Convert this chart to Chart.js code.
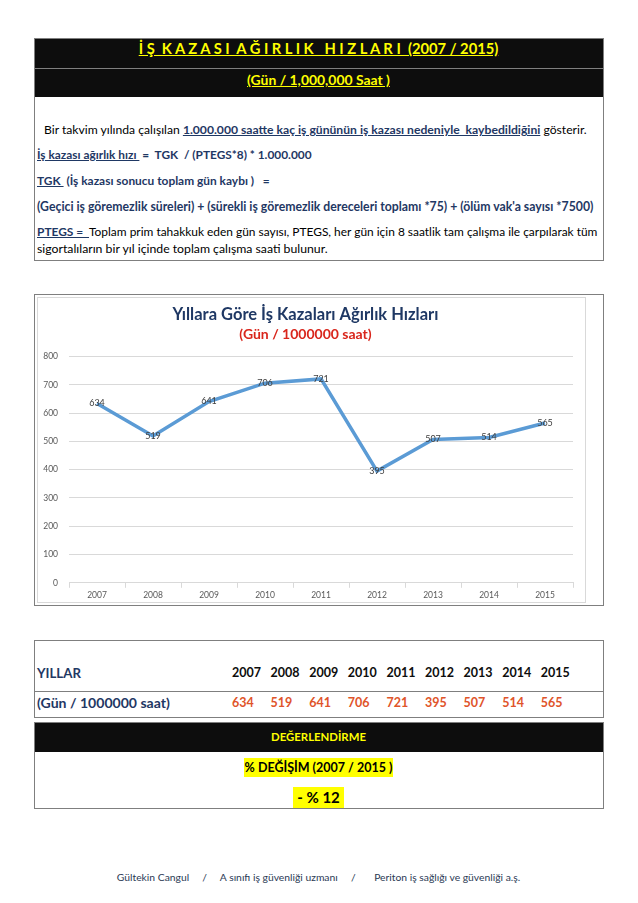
<!DOCTYPE html>
<html><head><meta charset="utf-8">
<script src="https://cdn.jsdelivr.net/npm/chart.js@4.4.1/dist/chart.umd.min.js"></script>
<style>
body{margin:0;width:638px;height:903px;background:#fff;font-family:Lato,"Noto Sans",sans-serif;position:relative;overflow:hidden}
.a{position:absolute;white-space:pre;line-height:16px}
.box{position:absolute;box-sizing:border-box;border:1px solid #7f7f7f}
.blk{position:absolute;background:#0d0d0d}
.nv{color:#1f3864;font-weight:bold}
.u{text-decoration:underline}
.hl{background:#ffff00}
</style></head><body>

<div class="box" style="left:34px;top:38px;width:570px;height:223px"></div>
<div class="blk" style="left:35px;top:39px;width:568px;height:29px"></div>
<div class="blk" style="left:35px;top:69px;width:568px;height:28px"></div>
<div class="a" style="left:35px;top:68px;width:568px;height:1px;background:#7f7f7f"></div>

<div class="a fit c" data-w="360" data-f="12" style="top:40px;color:#ffff00;font-weight:bold;text-decoration:underline">İ Ş  K A Z A S I  A Ğ I R L I K   H I Z L A R I  (2007 / 2015)</div>
<div class="a fit c" data-w="143" data-f="12" style="top:72px;color:#ffff00;font-weight:bold;text-decoration:underline">(Gün / 1,000,000 Saat )</div>

<div class="a fit" data-w="543" data-f="11" style="left:44px;top:122px">Bir takvim yılında çalışılan <span class="nv u">1.000.000 saatte kaç iş gününün iş kazası nedeniyle  kaybedildiğini</span> gösterir.</div>
<div class="a fit nv" data-w="275" data-f="11" style="left:37px;top:147px"><span class="u">İş kazası ağırlık hızı </span> =  TGK  / (PTEGS*8) * 1.000.000</div>
<div class="a fit nv" data-w="233" data-f="11" style="left:37px;top:173px"><span class="u">TGK </span> (İş kazası sonucu toplam gün kaybı )   =</div>
<div class="a fit nv" data-w="557" data-f="11" style="left:37px;top:199px">(Geçici iş göremezlik süreleri) + (sürekli iş göremezlik dereceleri toplamı *75) + (ölüm vak'a sayısı *7500)</div>
<div class="a fit" data-w="561" data-f="11" style="left:37px;top:224px"><span class="nv u">PTEGS =  </span>Toplam prim tahakkuk eden gün sayısı, PTEGS, her gün için 8 saatlik tam çalışma ile çarpılarak tüm</div>
<div class="a fit" data-w="291" data-f="11" style="left:37px;top:241px">sigortalıların bir yıl içinde toplam çalışma saati bulunur.</div>

<div class="box" style="left:34px;top:294px;width:570px;height:312px"></div>
<div class="box" style="left:37px;top:297px;width:549px;height:306px;border-color:#d9d9d9"></div>
<div style="position:absolute;left:38px;top:298px;width:547px;height:304px"><canvas id="c"></canvas></div>

<div class="box" style="left:34px;top:640px;width:570px;height:78px"></div>
<div class="a" style="left:35px;top:691px;width:568px;height:1px;background:#7f7f7f"></div>
<div class="a fit nv" data-w="44" data-f="12.5" style="left:37px;top:665px">YILLAR</div>
<div class="a fit nv" data-w="133" data-f="12.5" style="left:37px;top:695px">(Gün / 1000000 saat)</div>
<div id="tbl"></div>

<div class="box" style="left:34px;top:722px;width:570px;height:87px"></div>
<div class="blk" style="left:35px;top:723px;width:568px;height:29px"></div>
<div class="a fit c" data-w="95" data-f="12" style="top:729px;color:#ffff00;font-weight:bold">DEĞERLENDİRME</div>
<div class="a c" style="top:758px;font-weight:bold;font-size:12.5px;line-height:19px;background:#ffff00;padding:0 1px" id="deg">% DEĞİŞİM (2007 / 2015 )</div>
<div class="a c" style="top:787px;font-weight:bold;font-size:15px;line-height:21px;background:#ffff00;padding:0 4px">- % 12</div>

<div class="a fit c" data-w="404" data-f="9.5" style="top:869px;color:#2b3a55">Gültekin Cangul     /     A sınıfı iş güvenliği uzmanı     /       Periton iş sağlığı ve güvenliği a.ş.</div>

<script>
const years = ['2007','2008','2009','2010','2011','2012','2013','2014','2015'];
const rates = [634, 519, 641, 706, 721, 395, 507, 514, 565];
const yMin = 0, yMax = 800, yStep = 100;

// table
const tbl = document.getElementById('tbl');
years.forEach((y, i) => {
  const x = 232 + i * 38.6;
  const a = document.createElement('div');
  a.className = 'a'; a.textContent = y;
  a.style.cssText = `left:${x}px;top:665px;font-weight:bold;font-size:12.5px;color:#0d0d0d`;
  tbl.appendChild(a);
  const b = document.createElement('div');
  b.className = 'a'; b.textContent = rates[i];
  b.style.cssText = `left:${x}px;top:695px;font-weight:bold;font-size:12.5px;color:#e0542a`;
  tbl.appendChild(b);
});

// fit text widths
document.querySelectorAll('.fit').forEach(el => {
  const f = parseFloat(el.dataset.f);
  el.style.fontSize = f + 'px';
  const w = el.getBoundingClientRect().width;
  el.style.fontSize = (f * parseFloat(el.dataset.w) / w) + 'px';
});
document.querySelectorAll('.c').forEach(el => {
  const w = el.getBoundingClientRect().width;
  el.style.left = (318.5 - w / 2) + 'px';
});

const valueLabels = {
  id: 'valueLabels',
  afterDatasetsDraw(chart) {
    const ctx = chart.ctx;
    const meta = chart.getDatasetMeta(0);
    ctx.save();
    ctx.font = '9px Lato, sans-serif';
    ctx.fillStyle = '#404040';
    ctx.textAlign = 'center';
    ctx.textBaseline = 'middle';
    meta.data.forEach((p, i) => ctx.fillText(String(chart.data.datasets[0].data[i]), p.x, p.y));
    ctx.restore();
  }
};

new Chart(document.getElementById('c'), {
  type: 'line',
  data: {
    labels: years,
    datasets: [{
      data: rates,
      borderColor: '#5b9bd5',
      borderWidth: 3.5,
      pointRadius: 0,
      tension: 0,
      fill: false
    }]
  },
  options: {
    responsive: true,
    maintainAspectRatio: false,
    animation: false,
    layout: { padding: { left: 0, right: 12, top: 0, bottom: 0 } },
    plugins: {
      legend: { display: false },
      tooltip: { enabled: false },
      title: {
        display: true,
        text: 'Yıllara Göre İş Kazaları Ağırlık Hızları',
        color: '#1f3864',
        font: { family: 'Lato', size: 16.5, weight: 'bold' },
        padding: { top: 7, bottom: 1 }
      },
      subtitle: {
        display: true,
        text: '(Gün / 1000000 saat)',
        color: '#d9261c',
        font: { family: 'Lato', size: 14, weight: 'bold' },
        padding: { top: 0, bottom: 14 }
      }
    },
    scales: {
      x: {
        offset: true,
        grid: { offset: true, drawOnChartArea: false, drawTicks: true, tickLength: 5, color: '#d9d9d9' },
        border: { display: true, color: '#d9d9d9' },
        ticks: { color: '#595959', font: { family: 'Lato', size: 8.5 }, padding: 2, maxRotation: 0 }
      },
      y: {
        min: yMin, max: yMax,
        afterFit(scale) { scale.width = 31; },
        grid: { color: '#d9d9d9', drawTicks: false },
        border: { display: false },
        ticks: { stepSize: yStep, color: '#595959', font: { family: 'Lato', size: 8.5 }, padding: 11 }
      }
    }
  },
  plugins: [valueLabels]
});
</script>
</body></html>
